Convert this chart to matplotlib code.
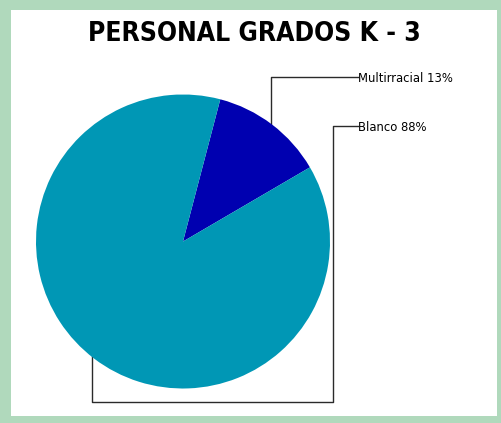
import matplotlib.pyplot as plt
from matplotlib.patches import Rectangle

# datos
categorias = ['Multirracial', 'Blanco']
valores = [1, 7]
colores = ['#0000b0', '#0097b5']
titulo = 'PERSONAL GRADOS K - 3'

W, H = 501, 423
fig = plt.figure(figsize=(W / 100, H / 100), dpi=100, facecolor='#b0d9bc')
ax = fig.add_axes([0, 0, 1, 1])

# fondo blanco dentro del marco verde
ax.add_patch(Rectangle((11, H - 416), 497 - 11, 416 - 10, facecolor='white',
                       edgecolor='none', zorder=0))

cx, cy, r = 183, H - 241.5, 147
ax.pie(valores, colors=colores, startangle=75.3, counterclock=False,
       center=(cx, cy), radius=r, wedgeprops=dict(linewidth=0, zorder=3),
       frame=True)
ax.set_xlim(0, W)
ax.set_ylim(0, H)
ax.set_aspect('equal')
ax.axis('off')

total = sum(valores)
etiquetas = [f'{c} {int(v / total * 100 + 0.5)}%' for c, v in zip(categorias, valores)]

fuente = 'DejaVu Sans'
lc = '#2a2a2a'
# lineas guia
ax.plot([271, 271, 358], [H - 130, H - 77, H - 77], color=lc, lw=1, zorder=2)
ax.plot([358, 333, 333, 92, 92], [H - 126, H - 126, H - 402, H - 402, H - 350],
        color=lc, lw=1, zorder=2)

ax.text(358, H - 78, etiquetas[0], fontsize=9.3, family=fuente, stretch='condensed',
        va='center', ha='left')
ax.text(358, H - 127, etiquetas[1], fontsize=9.3, family=fuente, stretch='condensed',
        va='center', ha='left')

ax.text(254, H - 34, titulo, fontsize=19, fontweight='bold', family=fuente,
        stretch='condensed', ha='center', va='center')

fig.savefig('out.png', dpi=100, facecolor=fig.get_facecolor())
